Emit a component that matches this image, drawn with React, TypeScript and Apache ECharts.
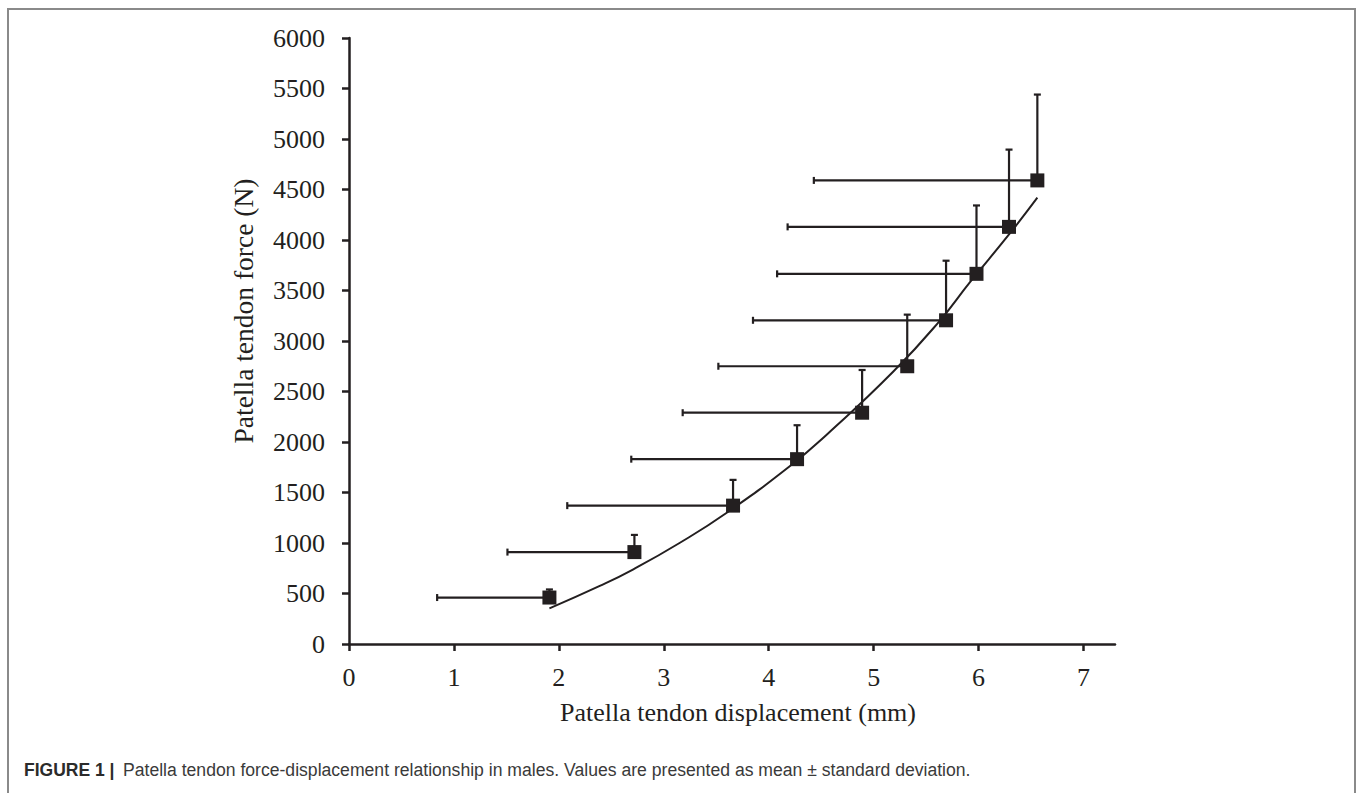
import React, { useEffect, useRef } from "react";
import * as echarts from "echarts";

// Mean displacement (mm) and force (N) per loading step
const meanDisplacement = [1.91, 2.72, 3.66, 4.27, 4.89, 5.32, 5.69, 5.98, 6.29, 6.56];
const meanForce = [460, 910, 1370, 1830, 2290, 2750, 3205, 3665, 4130, 4590];
// Standard deviations (displayed one-sided: displacement to the left, force upwards)
const displacementSD = [1.07, 1.21, 1.58, 1.58, 1.71, 1.80, 1.84, 1.90, 2.11, 2.13];
const forceSD = [80, 170, 255, 336, 423, 511, 590, 677, 765, 850];
// Fitted curve
const fitDisplacement = [1.91, 2.39, 2.71, 3.15, 3.6, 4.2, 4.56, 5.19, 5.63, 5.92, 6.29, 6.56];
const fitForce = [353, 575, 740, 1000, 1300, 1760, 2080, 2700, 3200, 3585, 4055, 4419];
// Axis ticks
const xTicks = [0, 1, 2, 3, 4, 5, 6, 7];

const INK = "#231f20";
const SERIF = "'Liberation Serif', 'Times New Roman', serif";
const SANS = "'Liberation Sans', Arial, Helvetica, sans-serif";

export default function App() {
  const ref = useRef<HTMLDivElement>(null);
  useEffect(() => {
    if (!ref.current) return;
    const chart = echarts.init(ref.current, null, { renderer: "svg" });
    const points = meanDisplacement.map((x, i) => [x, meanForce[i]]);
    const errData = meanDisplacement.map((x, i) => [
      x,
      meanForce[i],
      x - displacementSD[i],
      meanForce[i] + forceSD[i],
    ]);
    const fit = fitDisplacement.map((x, i) => [x, fitForce[i]]);

    chart.setOption({
      animation: false,
      backgroundColor: "#ffffff",
      grid: { left: 349, right: 242, top: 38, bottom: 149, containLabel: false },
      xAxis: {
        type: "value",
        min: 0,
        max: 7.3,
        interval: 1,
        axisLine: { show: true, onZero: false, lineStyle: { color: INK, width: 2.5 } },
        axisTick: { show: true, length: 7, customValues: xTicks, lineStyle: { color: INK, width: 2.5 } },
        axisLabel: {
          customValues: xTicks,
          margin: 20,
          fontFamily: SERIF,
          fontSize: 26,
          color: INK,
          formatter: (v: number) => String(v),
        },
        splitLine: { show: false },
      },
      yAxis: {
        type: "value",
        min: 0,
        max: 6000,
        interval: 500,
        axisLine: { show: true, onZero: false, lineStyle: { color: INK, width: 2.5 } },
        axisTick: { show: true, length: 7, lineStyle: { color: INK, width: 2.5 } },
        axisLabel: {
          margin: 24,
          fontFamily: SERIF,
          fontSize: 26,
          color: INK,
          formatter: (v: number) => String(v),
        },
        splitLine: { show: false },
      },
      graphic: [
        {
          type: "rect",
          shape: { x: 8, y: 9, width: 1347, height: 800 },
          style: { fill: "none", stroke: "#8a8a8a", lineWidth: 2 },
          silent: true,
        },
        {
          type: "text",
          x: 243,
          y: 311,
          rotation: Math.PI / 2,
          style: {
            text: "Patella tendon force (N)",
            font: `27.5px ${SERIF}`,
            fill: INK,
            align: "center",
            verticalAlign: "middle",
          },
        },
        {
          type: "text",
          x: 738,
          y: 712,
          style: {
            text: "Patella tendon displacement (mm)",
            font: `26px ${SERIF}`,
            fill: INK,
            align: "center",
            verticalAlign: "middle",
          },
        },
        {
          type: "text",
          x: 24,
          y: 770,
          style: {
            text: "FIGURE 1 |",
            font: `bold 17.5px ${SANS}`,
            fill: "#2b2b2b",
            align: "left",
            verticalAlign: "middle",
          },
        },
        {
          type: "text",
          x: 123,
          y: 770,
          style: {
            text: "Patella tendon force-displacement relationship in males. Values are presented as mean ± standard deviation.",
            font: `17.6px ${SANS}`,
            fill: "#3a3a3a",
            align: "left",
            verticalAlign: "middle",
          },
        },
      ],
      series: [
        {
          type: "line",
          data: fit,
          smooth: true,
          symbol: "none",
          lineStyle: { color: INK, width: 2 },
          z: 2,
        },
        {
          type: "custom",
          data: errData,
          z: 3,
          renderItem: (params: any, api: any) => {
            const x = api.value(0);
            const y = api.value(1);
            const xl = api.value(2);
            const yt = api.value(3);
            const p = api.coord([x, y]);
            const l = api.coord([xl, y]);
            const t = api.coord([x, yt]);
            const style = { stroke: INK, lineWidth: 2.2 };
            const cap = 3.5;
            return {
              type: "group",
              children: [
                { type: "line", shape: { x1: l[0], y1: l[1], x2: p[0], y2: p[1] }, style },
                { type: "line", shape: { x1: l[0], y1: l[1] - cap, x2: l[0], y2: l[1] + cap }, style },
                { type: "line", shape: { x1: p[0], y1: p[1], x2: t[0], y2: t[1] }, style },
                { type: "line", shape: { x1: t[0] - cap, y1: t[1], x2: t[0] + cap, y2: t[1] }, style },
              ],
            };
          },
        },
        {
          type: "scatter",
          data: points,
          symbol: "rect",
          symbolSize: 14,
          itemStyle: { color: INK, opacity: 1 },
          z: 4,
        },
      ],
    });
    return () => chart.dispose();
  }, []);
  return (
    <div
      ref={ref}
      style={{ position: "absolute", left: 0, top: 0, width: 1357, height: 793 }}
    />
  );
}
